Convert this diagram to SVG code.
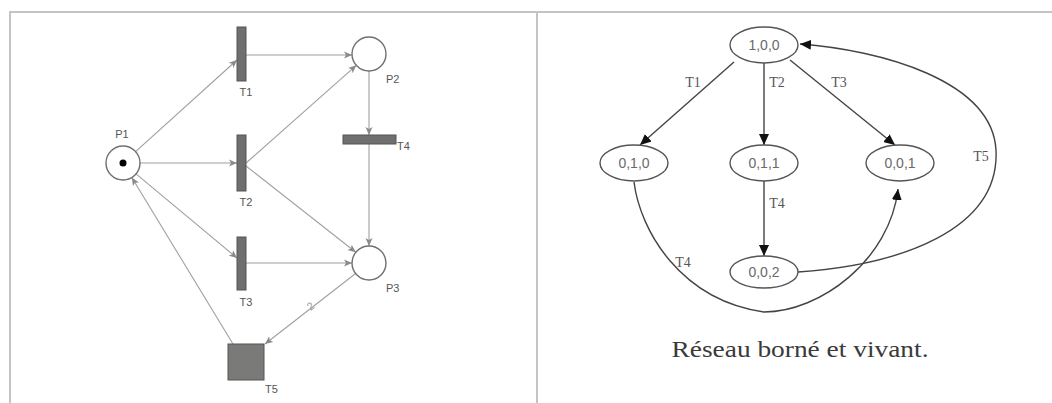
<svg xmlns="http://www.w3.org/2000/svg" width="1052" height="403" viewBox="0 0 1052 403">
<defs>
<style>
.frame{fill:none;stroke:#c4c4c4;stroke-width:2}
.arc{fill:none;stroke:#a0a0a0;stroke-width:1.1}
.place{fill:#fff;stroke:#707070;stroke-width:1.4}
.trans{fill:#6f6f6f;stroke:#555;stroke-width:1}
.lbl{font-family:"Liberation Sans",Arial,sans-serif;font-size:11px;fill:#555}
.state{fill:#fff;stroke:#555;stroke-width:1.4}
.stxt{font-family:"Liberation Sans",Arial,sans-serif;font-size:14px;fill:#6a6a6a;text-anchor:middle}
.edge{fill:none;stroke:#444;stroke-width:1.4}
.elbl{font-family:"Liberation Serif","Times New Roman",serif;font-size:14px;fill:#555;text-anchor:middle}
.cap{font-family:"Liberation Serif","Times New Roman",serif;font-size:24px;fill:#3a3a3a;text-anchor:middle}
</style>
<marker id="ga" markerUnits="userSpaceOnUse" markerWidth="9" markerHeight="8" refX="8" refY="4" orient="auto">
<path d="M0,0.5 L8,4 L0,7.5 L2,4 z" fill="#8a8a8a"/>
</marker>
<marker id="ba" markerUnits="userSpaceOnUse" markerWidth="12" markerHeight="10" refX="11" refY="5" orient="auto">
<path d="M0,0 L11,5 L0,10 z" fill="#111"/>
</marker>
</defs>
<rect width="1052" height="403" fill="#fff"/>
<g id="frame">
<path class="frame" d="M10,404 V12 H1053 M537,12 V404"/>
</g>
<g id="connectors">
<line class="arc" x1="135.6" y1="151.6" x2="237" y2="60" marker-end="url(#ga)"/>
<line class="arc" x1="246" y1="55" x2="352" y2="55" marker-end="url(#ga)"/>
<line class="arc" x1="140" y1="163" x2="237" y2="163" marker-end="url(#ga)"/>
<line class="arc" x1="246" y1="163" x2="356.3" y2="65.3" marker-end="url(#ga)"/>
<line class="arc" x1="246" y1="166" x2="355.8" y2="252.3" marker-end="url(#ga)"/>
<line class="arc" x1="136" y1="173.9" x2="237" y2="258" marker-end="url(#ga)"/>
<line class="arc" x1="246" y1="263" x2="352" y2="263" marker-end="url(#ga)"/>
<line class="arc" x1="369" y1="71" x2="369" y2="135" marker-end="url(#ga)"/>
<line class="arc" x1="369" y1="144" x2="369" y2="246" marker-end="url(#ga)"/>
<line class="arc" x1="355.6" y1="273.5" x2="265" y2="344" marker-end="url(#ga)"/>
<line class="arc" x1="233" y1="344" x2="131.8" y2="177.5" marker-end="url(#ga)"/>
<text class="lbl" x="313" y="309" text-anchor="middle" transform="rotate(-38 313 309)" style="fill:#999">2</text>
<line class="edge" x1="734" y1="62" x2="640" y2="145" marker-end="url(#ba)"/>
<line class="edge" x1="764" y1="63" x2="764" y2="145" marker-end="url(#ba)"/>
<line class="edge" x1="790" y1="60" x2="895" y2="145" marker-end="url(#ba)"/>
<line class="edge" x1="764" y1="181" x2="764" y2="256" marker-end="url(#ba)"/>
<path class="edge" d="M634,182 C640,230 680,300 764,312 C820,312 890,260 898,189" marker-end="url(#ba)"/>
<path class="edge" d="M798,272 C900,265 1000,230 996,150 C992,80 880,50 800,44" marker-end="url(#ba)"/>
<text class="elbl" x="693" y="87">T1</text>
<text class="elbl" x="777" y="87">T2</text>
<text class="elbl" x="839" y="87">T3</text>
<text class="elbl" x="777" y="208">T4</text>
<text class="elbl" x="683" y="267">T4</text>
<text class="elbl" x="981" y="161">T5</text>
</g>
<g id="P1">
<circle class="place" cx="123" cy="163" r="17"/>
<circle cx="123" cy="163" r="3.5" fill="#000"/>
<text class="lbl" x="122" y="138" text-anchor="middle">P1</text>
</g>
<g id="P2">
<circle class="place" cx="369" cy="54" r="17"/>
<text class="lbl" x="386" y="83">P2</text>
</g>
<g id="P3">
<circle class="place" cx="369" cy="263" r="17"/>
<text class="lbl" x="386" y="292">P3</text>
</g>
<g id="T1">
<rect class="trans" x="237" y="27" width="9" height="54"/>
<text class="lbl" x="246" y="96" text-anchor="middle">T1</text>
</g>
<g id="T2">
<rect class="trans" x="237" y="135" width="9" height="56"/>
<text class="lbl" x="246" y="206" text-anchor="middle">T2</text>
</g>
<g id="T3">
<rect class="trans" x="237" y="237" width="9" height="53"/>
<text class="lbl" x="246" y="306" text-anchor="middle">T3</text>
</g>
<g id="T4">
<rect class="trans" x="343" y="135" width="53" height="9"/>
<text class="lbl" x="397" y="150">T4</text>
</g>
<g id="T5">
<rect class="trans" x="228" y="344" width="36" height="36" style="fill:#7a7a78"/>
<text class="lbl" x="265" y="393">T5</text>
</g>
<g id="S100">
<ellipse class="state" cx="764" cy="45" rx="34" ry="18"/>
<text class="stxt" x="764" y="50">1,0,0</text>
</g>
<g id="S010">
<ellipse class="state" cx="634" cy="163" rx="34" ry="18"/>
<text class="stxt" x="634" y="168">0,1,0</text>
</g>
<g id="S011">
<ellipse class="state" cx="764" cy="163" rx="34" ry="18"/>
<text class="stxt" x="764" y="168">0,1,1</text>
</g>
<g id="S001">
<ellipse class="state" cx="900" cy="163" rx="34" ry="18"/>
<text class="stxt" x="900" y="168">0,0,1</text>
</g>
<g id="S002">
<ellipse class="state" cx="764" cy="272" rx="34" ry="16"/>
<text class="stxt" x="764" y="277">0,0,2</text>
</g>
<g id="caption">
<text class="cap" x="800" y="357" textLength="257" lengthAdjust="spacingAndGlyphs">Réseau borné et vivant.</text>
</g>
</svg>
